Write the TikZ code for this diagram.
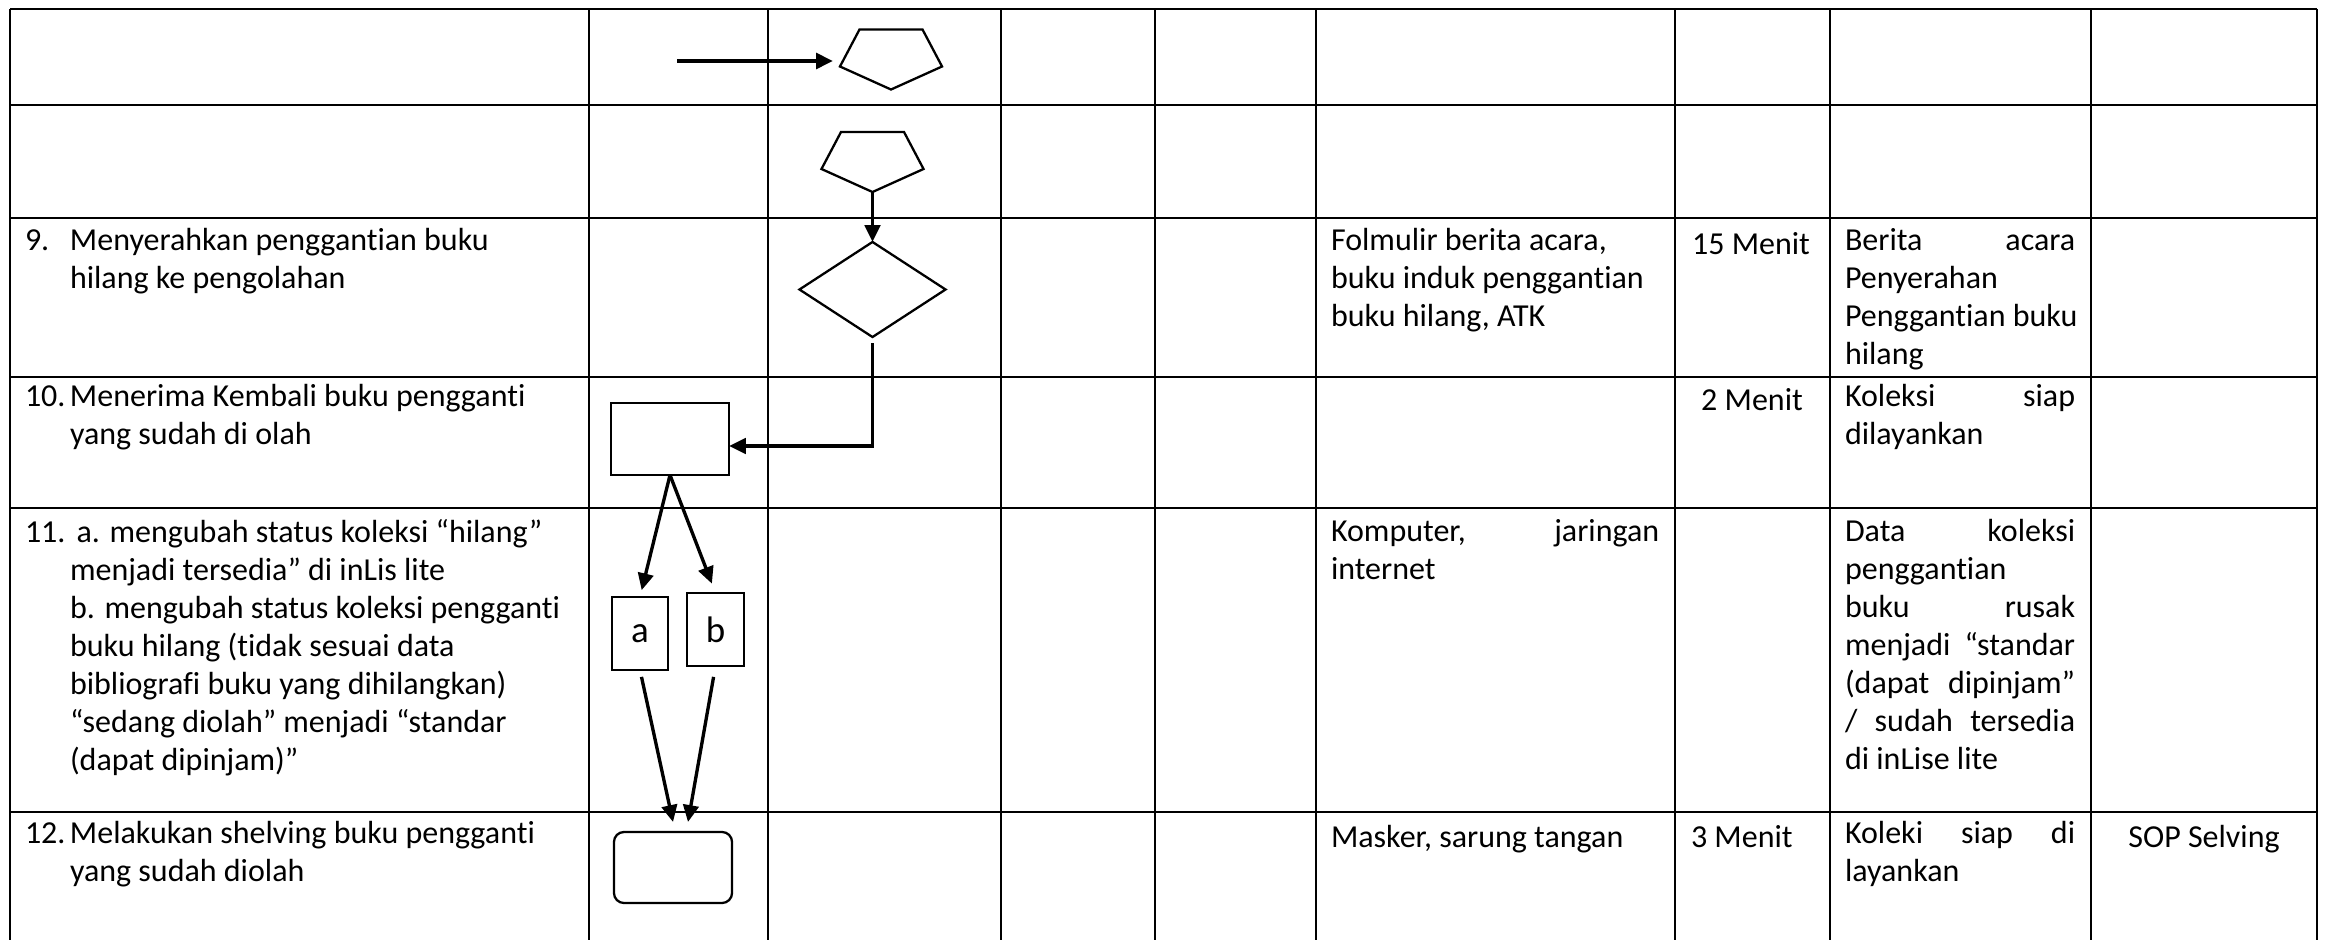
\documentclass[tikz,border=0pt]{standalone}
\usepackage{fontspec}
\setmainfont{Carlito}[Ligatures=CommonOff]
\usetikzlibrary{shapes.geometric,arrows.meta,calc}
\begin{document}
\begin{tikzpicture}[x=0.01cm,y=-0.01cm,
  gridline/.style={line width=0.75pt},
  shp/.style={draw,line width=0.65pt,inner sep=0pt,outer sep=0pt},
  ghost/.style={inner sep=0pt,outer sep=0pt,minimum width=1.02cm,minimum height=0.60cm},
  conn/.style={line width=0.95pt,-{Triangle[length=4.8pt,width=4.4pt]}},
  txt/.style={inner sep=0pt,outer sep=0pt,anchor=north west,align=left,
    font=\fontsize{9.1}{10.8}\selectfont,execute at begin node=\strut},
  lbl/.style={font=\fontsize{10.5}{12}\selectfont}]
\useasboundingbox (0,0) rectangle (2328,940);

% table grid
\foreach \yy in {9,105,218,377,508,812}
  \draw[gridline] (10,\yy) -- (2317,\yy);
\foreach \xx in {10,589,768,1001,1155,1316,1675,1830,2091,2317}
  \draw[gridline] (\xx,9) -- (\xx,940);

% pentagons (off-page connectors)
\node[ghost] (pA) at (891,59.5) {};
\draw[line width=0.65pt] ($(pA.north)+(-31.5,0)$) -- ($(pA.north)+(31.5,0)$) -- ($(pA.east)+(0,7)$) -- (pA.south) -- ($(pA.west)+(0,7)$) -- cycle;
\node[ghost] (pB) at (872.5,162) {};
\draw[line width=0.65pt] ($(pB.north)+(-31.5,0)$) -- ($(pB.north)+(31.5,0)$) -- ($(pB.east)+(0,7)$) -- (pB.south) -- ($(pB.west)+(0,7)$) -- cycle;

% other shapes
\node[shp,diamond,minimum width=1.46cm,minimum height=0.95cm] (dm) at (872.5,289.5) {};
\node[shp,rectangle,minimum width=1.18cm,minimum height=0.72cm] (r10) at (670,439) {};
\node[shp,rectangle,minimum width=0.56cm,minimum height=0.73cm,lbl] (ba) at (640,633.5) {a};
\node[shp,rectangle,minimum width=0.57cm,minimum height=0.73cm,lbl] (bb) at (715.5,629.5) {b};
\node[shp,rectangle,rounded corners=0.1cm,minimum width=1.18cm,minimum height=0.71cm] (rr) at (673,867.5) {};

% connectors
\coordinate (a0) at (677,61);
\draw[conn,line width=1.15pt,shorten >=0.07cm] (a0) -- (a0 -| pA.west);
\draw[conn] (pB.south) -- (dm.north);
\draw[conn] ($(dm.south)+(0,6)$) |- ($(r10.east)+(0,7)$);
\draw[conn,shorten >=0.07cm] (r10.south) -- (ba.north);
\draw[conn,shorten >=0.10cm] (r10.south) -- (bb.north);
\draw[conn,shorten <=0.07cm] (ba.south) -- ($(rr.north)+(0,-10)$);
\draw[conn,shorten <=0.11cm] (bb.south) -- ($(rr.north)+(15,-10)$);

% column 1 texts
\node[txt] (t9) at (25,228.4) {\makebox[0.45cm][l]{9.}Menyerahkan penggantian buku\\\hspace*{0.45cm}hilang ke pengolahan};
\node[txt] (t10) at (25,384.4) {\makebox[0.45cm][l]{10.}Menerima Kembali buku pengganti\\\hspace*{0.45cm}yang sudah di olah};
\node[txt] (t11) at (25,519.4) {\makebox[0.45cm][l]{11.}\hspace{0.065cm}a. mengubah status koleksi “hilang”\\
\hspace*{0.45cm}menjadi tersedia” di inLis lite\\
\hspace*{0.45cm}b. mengubah status koleksi pengganti\\
\hspace*{0.45cm}buku hilang (tidak sesuai data\\
\hspace*{0.45cm}bibliografi buku yang dihilangkan)\\
\hspace*{0.45cm}“sedang diolah” menjadi “standar\\
\hspace*{0.45cm}(dapat dipinjam)”};
\node[txt] (t12) at (25,821.4) {\makebox[0.45cm][l]{12.}Melakukan shelving buku pengganti\\\hspace*{0.45cm}yang sudah diolah};

% column 6 texts
\node[txt] (e9) at (1331,228.4) {Folmulir berita acara,\\buku induk penggantian\\buku hilang, ATK};
\node[txt] (e11) at (1331,519.4) {\hbox to 3.28cm{Komputer,\hfill jaringan}\\internet};
\node[txt] (e12) at (1331,821.4) {Masker, sarung tangan};

% column 7 texts
\node[txt,anchor=north] (m9) at (1751,228.4) {15 Menit};
\node[txt,anchor=north] (m10) at (1752,384.4) {2 Menit};
\node[txt] (m12) at (1691,821.4) {3 Menit};

% column 8 texts
\node[txt] (o9) at (1845,228.4) {\hbox to 2.30cm{Berita\hfill acara}\\Penyerahan\\Penggantian buku\\hilang};
\node[txt] (o10) at (1845,384.4) {\hbox to 2.30cm{Koleksi\hfill siap}\\dilayankan};
\node[txt] (o11) at (1845,519.4) {\hbox to 2.30cm{Data\hfill koleksi}\\penggantian\\\hbox to 2.30cm{buku\hfill rusak}\\\hbox to 2.30cm{menjadi\hfill “standar}\\\hbox to 2.30cm{(dapat\hfill dipinjam”}\\\hbox to 2.30cm{/\hfill sudah\hfill tersedia}\\di inLise lite};
\node[txt] (o12) at (1845,821.4) {\hbox to 2.30cm{Koleki\hfill siap\hfill di}\\layankan};

% column 9 text
\node[txt,anchor=north] (s12) at (2204,821.4) {SOP Selving};
\end{tikzpicture}
\end{document}
